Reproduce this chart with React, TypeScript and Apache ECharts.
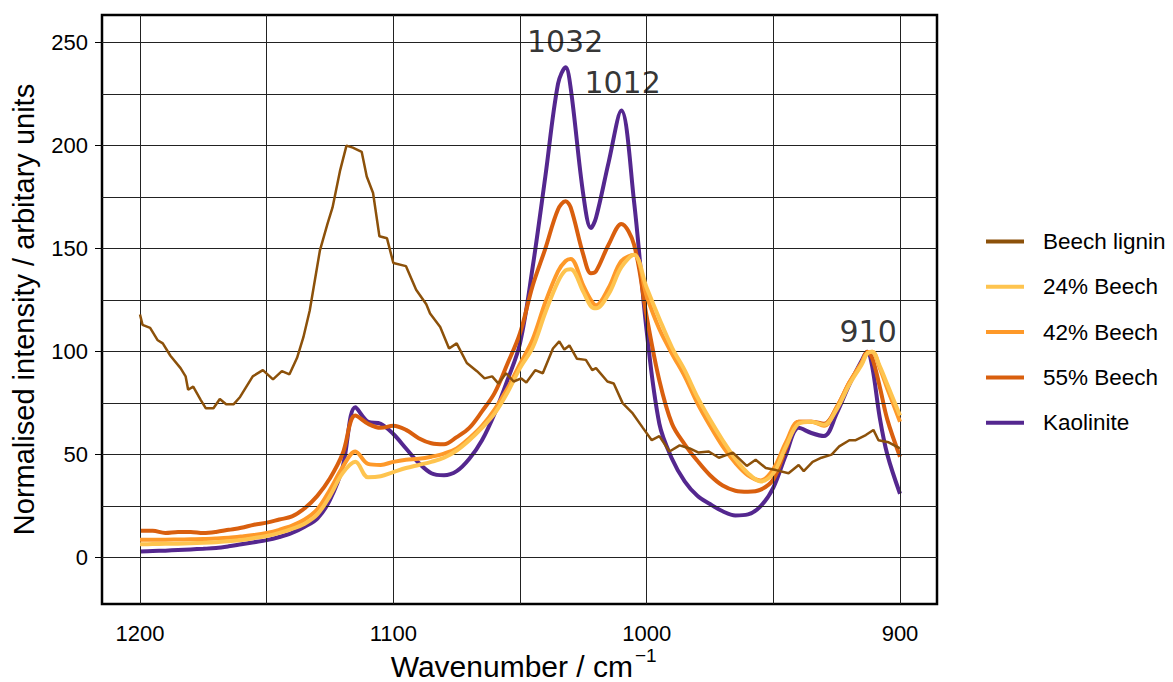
import React, { useEffect, useRef } from "react";
import * as echarts from "echarts";

// ---- Data ----
const wavenumbers = [
  1200, 1195, 1190, 1185, 1180, 1175, 1170, 1165, 1160, 1155, 1150, 1145, 1140, 1135, 1130, 1125, 1120, 1115,
  1110, 1105, 1100, 1095, 1090, 1085, 1080, 1075, 1070, 1065, 1060, 1055, 1050, 1045, 1040, 1035, 1032, 1030,
  1025, 1022, 1020, 1015, 1010, 1005, 1000, 995, 990, 985, 980, 975, 970, 965, 960, 955, 950, 945, 940, 935,
  930, 925, 920, 915, 913, 911, 908, 905, 900,
];

const kaolinite = [
  3, 3.2, 3.4, 3.7, 4, 4.3, 4.7, 5.5, 6.5, 7.5, 8.5, 10, 12, 15, 19, 28, 44, 73,
  66, 65, 60, 53, 46, 41, 40, 42, 48, 57, 70, 86, 104, 141, 185, 230, 238, 228,
  176, 160, 165, 192, 217, 173, 110, 65, 48, 37, 30, 26, 22.5, 20.5, 21, 25, 34, 50, 63, 60.5,
  59, 70, 84, 96, 100, 93, 68, 50, 31,
];

const beech55 = [
  13, 13, 12, 12.5, 12.5, 12, 12.5, 13.5, 14.5, 16, 17, 18.5, 20, 24, 30, 38.5, 50.5, 69,
  65, 63, 64, 62, 58, 55.5, 55, 58.5, 63, 71, 80, 94, 109, 132, 150, 169, 173, 170,
  147, 138, 139, 152, 162, 152, 117, 86, 65, 55, 47, 40, 35, 32.5, 32, 33, 38, 53, 66, 66,
  65, 73, 85, 95, 100, 97, 83, 67, 49,
];

const beech42 = [
  8.7, 8.7, 8.7, 8.8, 8.9, 9, 9.3, 9.7, 10.3, 11, 12, 13.5, 15.5, 18.5, 23.5, 33, 44, 51.5,
  45.5, 45, 46.5, 47.5, 48, 49, 50.5, 53, 58, 64, 72, 82, 94, 106, 124, 139, 144, 145,
  132, 125, 122.5, 131, 144, 147, 127, 111, 99, 88, 75, 64, 54, 46, 40, 37.5, 43, 56, 66, 66,
  64, 73, 85, 95, 99.5, 100, 92, 82, 66,
];

const beech24 = [
  6.5, 6.6, 6.7, 6.8, 7, 7.2, 7.5, 8, 8.6, 9.5, 10.5, 12, 14, 16.5, 21, 30, 41, 46.5,
  39, 39.5, 41.5, 43.5, 45, 46.5, 48.5, 52, 57, 63, 70, 80, 92, 102, 119, 134, 139.5, 140,
  129, 122, 121, 128, 141, 147, 131, 116, 102, 91, 78, 67, 57, 48, 41, 37, 41, 54, 65, 66,
  64.5, 72, 84, 94, 99, 100, 93, 84, 69,
];

const ligninWavenumbers = [
  1200, 1199, 1196, 1193, 1191, 1188, 1184, 1182, 1181, 1179, 1176, 1174, 1171, 1168.5, 1166, 1163, 1160.5,
  1155.5, 1151.5, 1147.5, 1144, 1141, 1138, 1135.5, 1133, 1129, 1126, 1124, 1121, 1118.5, 1116, 1112.5,
  1110.5, 1108, 1105.5, 1102.5, 1100, 1095, 1091, 1087, 1085.5, 1081.5, 1078, 1075, 1071, 1067, 1064, 1061,
  1058.5, 1055.5, 1052.5, 1049.5, 1047.5, 1044, 1041, 1037, 1034.5, 1032.5, 1030.5, 1027.5, 1024, 1021.5,
  1020, 1015.5, 1013, 1009.5, 1005.5, 1001.5, 998, 995, 991, 987, 983, 979.5, 975.5, 971.5, 966, 960.5,
  957, 953, 949, 944, 940, 938, 934.5, 931, 927, 924, 920, 917.5, 913.5, 910.5, 908.5, 904.5, 900,
];

const beechLignin = [
  118, 113, 111.5, 105.5, 104, 98, 92, 88, 81.5, 83, 76.5, 72.5, 72.5, 77, 74.5, 74.5, 78,
  88, 91, 86.5, 90.5, 89, 97, 107, 120, 149, 162, 170, 188, 200, 199, 197,
  185, 177, 156, 155, 143, 141.5, 130, 123, 118.5, 112, 101.5, 104, 94.5, 90.5, 87, 88,
  84.5, 89.5, 85.5, 87, 85, 91, 89.5, 101.5, 105, 101, 103, 96.5, 96, 91,
  92, 85.5, 84.5, 75, 70, 63, 57, 59, 51.5, 54.5, 53, 51, 51.5, 48.5, 51, 44.5,
  47.5, 43.5, 42.5, 41, 45, 42, 46.5, 48.5, 50, 54, 57, 57, 59.5, 62, 57, 56, 53,
];

const seriesNames = ["Beech lignin", "24% Beech", "42% Beech", "55% Beech", "Kaolinite"];
const seriesColors = ["#8c510a", "#fec44f", "#fe9929", "#d95f0e", "#54278f"];

const peakLabels = ["1032", "1012", "910"];
const peakLabelX = [1032.2, 1009.5, 912.6];
const peakLabelY = [250.5, 230.8, 110];

const xTickValues = [1200, 1100, 1000, 900];
const yTickValues = [0, 50, 100, 150, 200, 250];
const xGridValues = [1200, 1150, 1100, 1050, 1000, 950, 900];
const yGridValues = [0, 25, 50, 75, 100, 125, 150, 175, 200, 225, 250];

const xTitle = "Wavenumber / cm";
const xTitleSup = "−1";
const yTitle = "Normalised intensity / arbitary units";

const FONT = "Liberation Sans, Arial, Helvetica, sans-serif";

const pairs = (xs: number[], ys: number[]) => xs.map((x, i) => [x, ys[i]]);

export default function App() {
  const ref = useRef<HTMLDivElement>(null);

  useEffect(() => {
    if (!ref.current) return;
    const chart = echarts.init(ref.current, undefined, { renderer: "svg" });

    const smoothLine = (name: string, values: number[], color: string, z: number) => ({
      name,
      type: "line",
      data: pairs(wavenumbers, values),
      showSymbol: false,
      symbol: "none",
      smooth: 0.35,
      z,
      lineStyle: { color, width: 4 },
      itemStyle: { color },
      emphasis: { disabled: true },
    });

    const option: any = {
      animation: false,
      grid: {
        left: 102,
        top: 15,
        width: 835,
        height: 589,
        show: true,
        borderColor: "#000",
        borderWidth: 2.5,
        backgroundColor: "transparent",
        containLabel: false,
        outerBoundsMode: "none",
      },
      legend: {
        data: seriesNames,
        orient: "vertical",
        left: 986,
        top: 230,
        padding: 0,
        icon: "rect",
        itemWidth: 38,
        itemHeight: 4,
        itemGap: 22.3,
        textStyle: { fontSize: 22.5, color: "#000", fontFamily: FONT, lineHeight: 22, padding: [0, 0, 0, 14] },
      },
      graphic: [
        {
          type: "text",
          x: 633,
          y: 666,
          silent: true,
          style: { text: xTitle, fontSize: 30, fontFamily: FONT, fill: "#000", align: "right", verticalAlign: "middle" },
        },
        {
          type: "text",
          x: 635,
          y: 655,
          silent: true,
          style: { text: xTitleSup, fontSize: 19, fontFamily: FONT, fill: "#000", align: "left", verticalAlign: "middle" },
        },
      ],
      xAxis: {
        type: "value",
        inverse: true,
        min: 885.4,
        max: 1215,
        axisLine: { show: false },
        splitLine: { show: false },
        axisTick: { show: true, customValues: xTickValues, length: 8, lineStyle: { color: "#000", width: 1 } },
        axisLabel: {
          customValues: xTickValues,
          formatter: (v: number) => String(Math.round(v)),
          fontSize: 22,
          color: "#000",
          fontFamily: FONT,
          margin: 18,
        },
      },
      yAxis: {
        type: "value",
        min: -22.5,
        max: 263.4,
        axisLine: { show: false },
        splitLine: { show: false },
        axisTick: { show: true, customValues: yTickValues, length: 7, lineStyle: { color: "#000", width: 1 } },
        axisLabel: {
          customValues: yTickValues,
          formatter: (v: number) => String(Math.round(v)),
          fontSize: 22,
          color: "#000",
          fontFamily: FONT,
          margin: 14,
        },
        name: yTitle,
        nameLocation: "middle",
        nameGap: 64,
        nameTextStyle: { fontSize: 29, fontFamily: FONT, color: "#000" },
      },
      series: [
        {
          name: "gridLines",
          type: "line",
          data: [],
          z: 1,
          silent: true,
          markLine: {
            silent: true,
            symbol: ["none", "none"],
            label: { show: false },
            lineStyle: { color: "#222", width: 1, type: "solid" },
            emphasis: { disabled: true },
            data: [
              ...xGridValues.map((v) => ({ xAxis: v })),
              ...yGridValues.map((v) => ({ yAxis: v })),
            ],
          },
        },
        smoothLine(seriesNames[4], kaolinite, seriesColors[4], 3),
        smoothLine(seriesNames[3], beech55, seriesColors[3], 4),
        smoothLine(seriesNames[2], beech42, seriesColors[2], 5),
        smoothLine(seriesNames[1], beech24, seriesColors[1], 6),
        {
          name: seriesNames[0],
          type: "line",
          data: pairs(ligninWavenumbers, beechLignin),
          showSymbol: false,
          symbol: "none",
          z: 7,
          lineStyle: { color: seriesColors[0], width: 2.5 },
          itemStyle: { color: seriesColors[0] },
          emphasis: { disabled: true },
        },
        {
          name: "peaks",
          type: "scatter",
          data: peakLabelX.map((x, i) => [x, peakLabelY[i]]),
          symbolSize: 0,
          z: 8,
          silent: true,
          label: {
            show: true,
            position: "inside",
            formatter: (p: any) => peakLabels[p.dataIndex],
            fontSize: 30,
            fontFamily: "DejaVu Sans",
            color: "#000",
          },
        },
      ],
    };

    chart.setOption(option);
    return () => chart.dispose();
  }, []);

  return (
    <div
      ref={ref}
      style={{ position: "fixed", left: 0, top: 0, width: 1173, height: 682, background: "#fff" }}
    />
  );
}
